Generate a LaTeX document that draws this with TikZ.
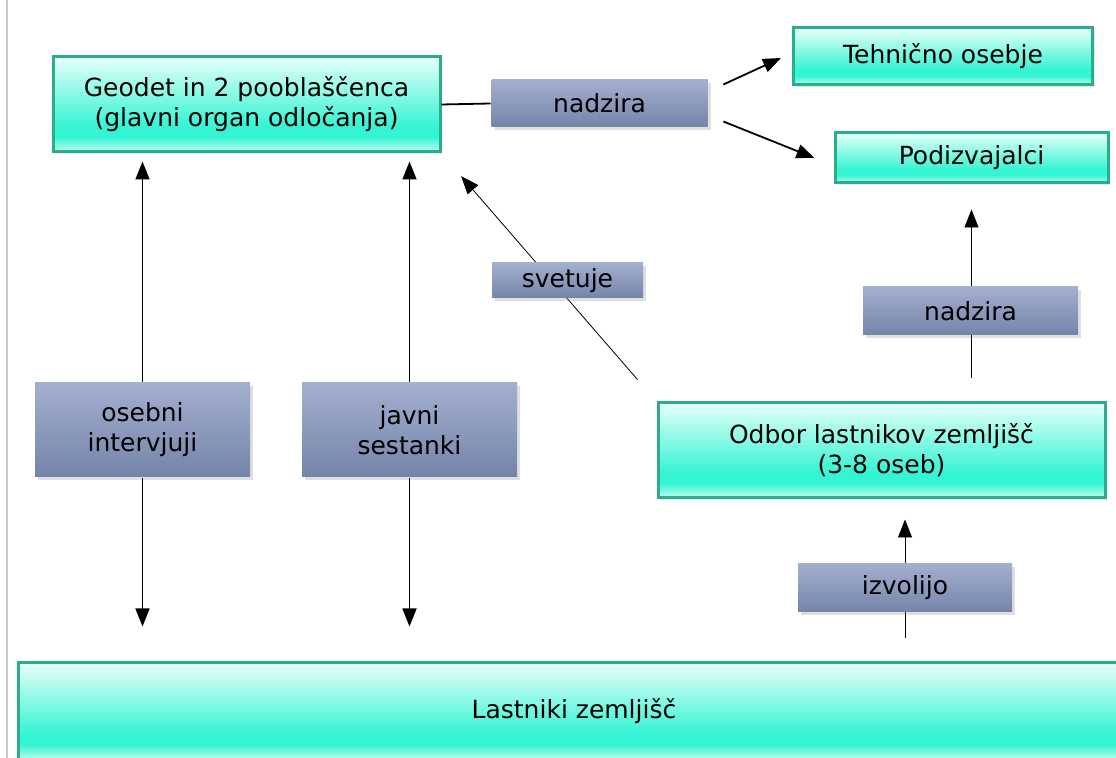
\documentclass[tikz,border=0pt]{standalone}
\usepackage{fontspec}
\setmainfont{DejaVu Sans}
\usetikzlibrary{arrows.meta,shadows,backgrounds}

\definecolor{zelRob}{HTML}{2AAD8D}
\definecolor{zelVrh}{HTML}{E6FFF9}
\definecolor{zelSre}{HTML}{33F4D3}
\definecolor{zelDno}{HTML}{C4FCEE}
\definecolor{sivVrh}{HTML}{A3AFCF}
\definecolor{sivDno}{HTML}{7484A9}
\pgfdeclareverticalshading{zelena}{100bp}{color(0bp)=(zelDno); color(25bp)=(zelDno); color(33bp)=(zelSre); color(38bp)=(zelSre); color(75bp)=(zelVrh); color(100bp)=(zelVrh)}

\begin{document}
\begin{tikzpicture}[x=0.5pt, y=-0.5pt, line width=0.9pt,
    >={Triangle[length=9pt, width=7pt]},
    font=\fontsize{12.5}{15}\selectfont,
    zelen/.style={draw=zelRob, line width=1.5pt, shading=zelena, align=center,
      inner sep=0pt, drop shadow={shadow xshift=1.2pt, shadow yshift=-1.2pt, opacity=0.2}},
    siv/.style={top color=sivVrh, bottom color=sivDno, align=center, inner sep=0pt,
      drop shadow={shadow xshift=1.5pt, shadow yshift=-1.5pt, opacity=0.25}}]
  \useasboundingbox (0,0) rectangle (1116,758);
  \draw[line width=0.6pt, black!22] (7,0) -- (7,758);
  % okvirji
  \node[zelen, minimum width=193.5pt, minimum height=47.5pt] (geodet) at (246.5,104.5) {Geodet in 2 pooblaščenca\\(glavni organ odločanja)};
  \node[zelen, minimum width=149.5pt, minimum height=28.5pt] (tehnicno) at (943,56.5) {Tehnično osebje};
  \node[zelen, minimum width=136.5pt, minimum height=25pt] (podiz) at (971.5,158) {Podizvajalci};
  \node[zelen, minimum width=223.5pt, minimum height=47.5pt] (odbor) at (881.5,450.5) {Odbor lastnikov zemljišč\\(3-8 oseb)};
  \node[zelen, minimum width=556pt, minimum height=48.5pt] (lastniki) at (574,711.5) {Lastniki zemljišč};
  % oznake
  \node[siv, minimum width=108pt, minimum height=23.5pt] (nadzira) at (599.5,103.5) {nadzira};
  \node[siv, minimum width=75.5pt, minimum height=17.5pt] (svetuje) at (567.5,280.5) {svetuje};
  \node[siv, minimum width=107.5pt, minimum height=24pt] (nadziraB) at (970.5,311) {nadzira};
  \node[siv, minimum width=107.5pt, minimum height=47pt] (osebni) at (142.5,430) {osebni\\intervjuji};
  \node[siv, minimum width=107.5pt, minimum height=47pt] (javni) at (409.5,430) {javni\\sestanki};
  \node[siv, minimum width=107pt, minimum height=24pt] (izvolijo) at (905,588) {izvolijo};
  % puščice pod oznakami
  \begin{scope}[on background layer]
    \draw[->, shorten <=14.5pt, shorten >=15pt] (odbor.north west) -- (geodet.south east);
    \draw[->, shorten <=11.5pt, shorten >=12.5pt] (podiz |- odbor.north) -- (podiz.south);
    \draw[->, shorten <=11.5pt, shorten >=10pt] (izvolijo |- lastniki.north) -- (izvolijo |- odbor.south);
  \end{scope}
  % puščice
  \draw (geodet.east) -- (nadzira.west);
  \draw[->] ([shift={(15,-19)}]nadzira.east) -- ([shift={(-11,1.5)}]tehnicno.west);
  \draw[->] ([shift={(15,18)}]nadzira.east) -- ([shift={(-19,0)}]podiz.west);
  \draw[->, shorten >=4pt] (osebni) -- (osebni |- geodet.south);
  \draw[->, shorten >=17.5pt] (osebni) -- (osebni |- lastniki.north);
  \draw[->, shorten >=4pt] (javni) -- (javni |- geodet.south);
  \draw[->, shorten >=17.5pt] (javni) -- (javni |- lastniki.north);
\end{tikzpicture}
\end{document}
